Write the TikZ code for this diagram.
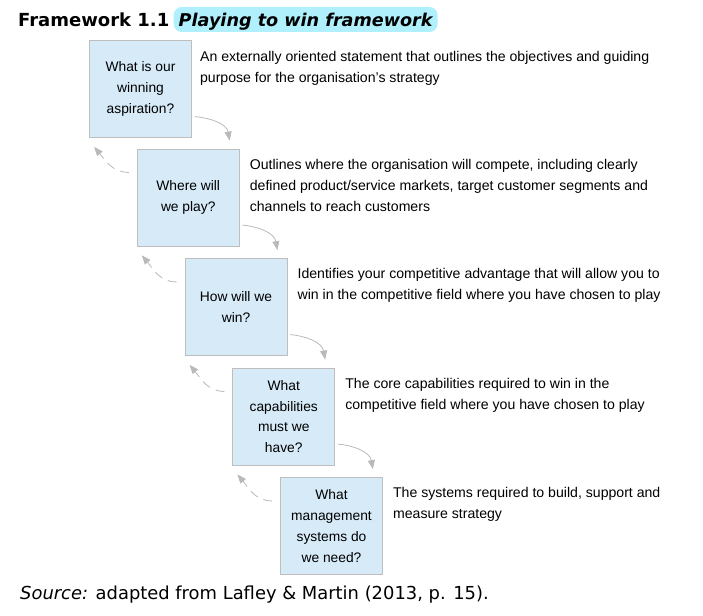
\documentclass[tikz,border=0pt]{standalone}
\usepackage{fontspec}
\usepackage{xcolor}
\usepackage{tikz}
\usetikzlibrary{positioning, arrows.meta}
\setmainfont{Liberation Sans}
\newfontfamily\verdfont{DejaVu Sans}
\definecolor{boxblue}{RGB}{214, 234, 248}
\definecolor{boxline}{RGB}{190, 190, 190}
\definecolor{hilitecyan}{RGB}{176, 240, 252}
\definecolor{arrowgray}{RGB}{185, 185, 185}

\begin{document}
\begin{tikzpicture}[x=1pt, y=1pt,
        qbox/.style={draw=boxline, fill=boxblue, line width=0.8pt, minimum width=102pt, minimum height=97pt,
            align=center, inner sep=2pt, font=\fontsize{13.8}{20.8}\selectfont},
        desc/.style={anchor=north west, align=left, inner sep=0pt, font=\fontsize{14.1}{21}\selectfont},
        fwd/.style={draw=arrowgray, line width=0.8pt, -{Triangle[length=9pt, width=7pt]}},
        back/.style={fwd, dash pattern=on 9pt off 6pt}
    ]
        \useasboundingbox (0,0) rectangle (703,-615);

        % title
        \node[anchor=base west, inner sep=0pt, font=\verdfont\bfseries\fontsize{18}{22}\selectfont] (fw) at (18,-27) {Framework 1.1};
        \node[anchor=base west, xshift=4pt, fill=hilitecyan, rounded corners=8pt, inner xsep=5pt, inner ysep=3pt,
            text height=17pt, text depth=2pt, font=\verdfont\bfseries\itshape\fontsize{17.6}{22}\selectfont] (ptw) at (fw.base east) {Playing to win framework};

        % question boxes
        \node[qbox] (aspire) at (140.5,-89) {What is our\\winning\\aspiration?};
        \node[qbox] (play) at (188.25,-197.5) {Where will\\we play?};
        \node[qbox] (win) at (236,-307) {How will we\\win?};
        \node[qbox] (capab) at (283.75,-416.5) {What\\capabilities\\must we\\have?};
        \node[qbox] (mgmt) at (331.5,-526) {What\\management\\systems do\\we need?};

        % descriptions
        \node[desc] (aspiredesc) at ([xshift=8pt, yshift=-11pt]aspire.north east)
            {An externally oriented statement that outlines the objectives and guiding\\purpose for the organisation’s strategy};
        \node[desc] (playdesc) at ([xshift=10pt, yshift=-10pt]play.north east)
            {Outlines where the organisation will compete, including clearly\\defined product/service markets, target customer segments and\\channels to reach customers};
        \node[desc] (windesc) at ([xshift=10pt, yshift=-10pt]win.north east)
            {Identifies your competitive advantage that will allow you to\\win in the competitive field where you have chosen to play};
        \node[desc] (capabdesc) at ([xshift=10pt, yshift=-10pt]capab.north east)
            {The core capabilities required to win in the\\competitive field where you have chosen to play};
        \node[desc] (mgmtdesc) at ([xshift=10pt, yshift=-10pt]mgmt.north east)
            {The systems required to build, support and\\measure strategy};

        % forward arrows
        \draw[fwd, shorten <=3pt] (aspire.-28) to[out=-5, in=100] ([xshift=-10pt, yshift=8pt]play.north east);
        \draw[fwd, shorten <=3pt] (play.-28) to[out=-5, in=100] ([xshift=-10pt, yshift=8pt]win.north east);
        \draw[fwd, shorten <=3pt] (win.-28) to[out=-5, in=100] ([xshift=-10pt, yshift=8pt]capab.north east);
        \draw[fwd, shorten <=3pt] (capab.-28) to[out=-5, in=100] ([xshift=-10pt, yshift=8pt]mgmt.north east);

        % feedback arrows
        \draw[back] ([xshift=-8pt]play.154) to[out=180, in=-50] ([xshift=5pt, yshift=-9pt]aspire.south west);
        \draw[back] ([xshift=-8pt]win.154) to[out=180, in=-50] ([xshift=5pt, yshift=-9pt]play.south west);
        \draw[back] ([xshift=-8pt]capab.154) to[out=180, in=-50] ([xshift=5pt, yshift=-9pt]win.south west);
        \draw[back] ([xshift=-8pt]mgmt.154) to[out=180, in=-50] ([xshift=5pt, yshift=-9pt]capab.south west);

        % source
        \node[anchor=base west, inner sep=0pt, font=\verdfont\fontsize{17.9}{22}\selectfont] (src) at (20,-599)
            {\itshape Source:\upshape{} adapted from Lafley \& Martin (2013, p. 15).};
    \end{tikzpicture}
\end{document}
